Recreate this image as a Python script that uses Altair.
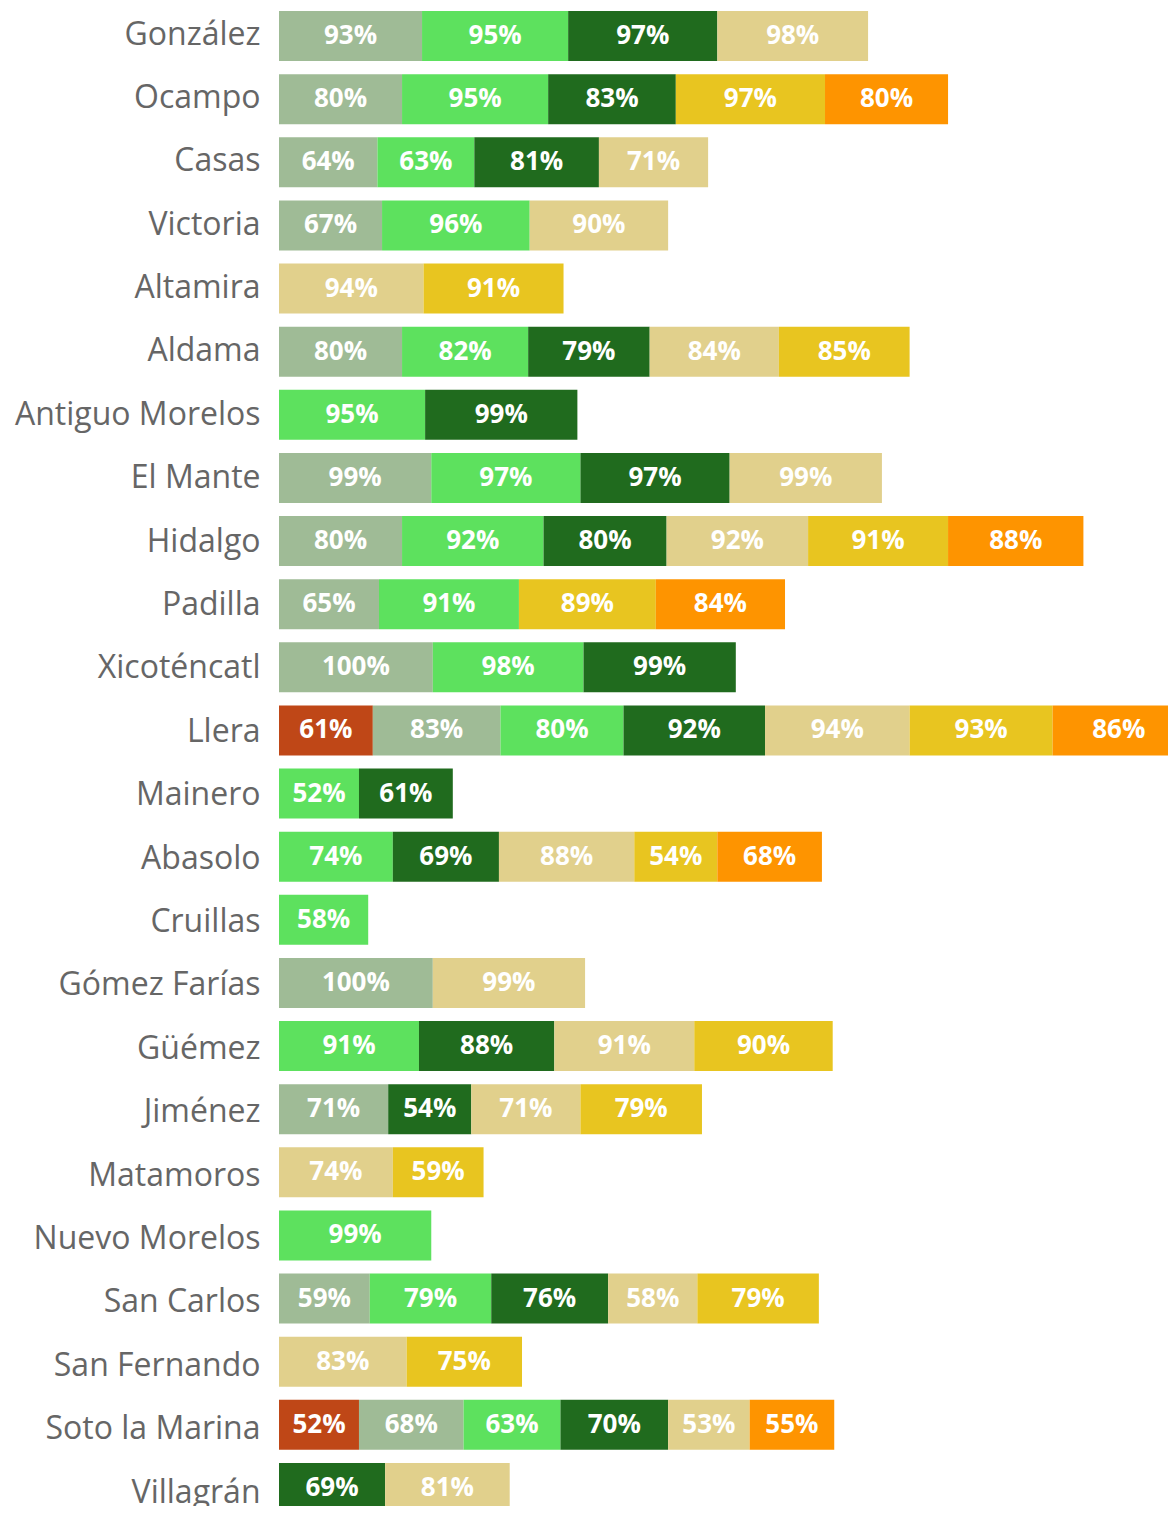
import altair as alt
import pandas as pd

municipios = [
    "González", "Ocampo", "Casas", "Victoria", "Altamira", "Aldama",
    "Antiguo Morelos", "El Mante", "Hidalgo", "Padilla", "Xicoténcatl",
    "Llera", "Mainero", "Abasolo", "Cruillas", "Gómez Farías", "Güémez",
    "Jiménez", "Matamoros", "Nuevo Morelos", "San Carlos", "San Fernando",
    "Soto la Marina", "Villagrán",
]

N = None
serie_1 = [N, N, N, N, N, N, N, N, N, N, N, 61, N, N, N, N, N, N, N, N, N, N, 52, N]
serie_2 = [93, 80, 64, 67, N, 80, N, 99, 80, 65, 100, 83, N, N, N, 100, N, 71, N, N, 59, N, 68, N]
serie_3 = [95, 95, 63, 96, N, 82, 95, 97, 92, 91, 98, 80, 52, 74, 58, N, 91, N, N, 99, 79, N, 63, N]
serie_4 = [97, 83, 81, N, N, 79, 99, 97, 80, N, 99, 92, 61, 69, N, N, 88, 54, N, N, 76, N, 70, 69]
serie_5 = [98, N, 71, 90, 94, 84, N, 99, 92, N, N, 94, N, 88, N, 99, 91, 71, 74, N, 58, 83, 53, 81]
serie_6 = [N, 97, N, N, 91, 85, N, N, 91, 89, N, 93, N, 54, N, N, 90, 79, 59, N, 79, 75, N, N]
serie_7 = [N, 80, N, N, N, N, N, N, 88, 84, N, 86, N, 68, N, N, N, N, N, N, N, N, 55, N]

series_names = ["Serie 1", "Serie 2", "Serie 3", "Serie 4", "Serie 5", "Serie 6", "Serie 7"]
series_values = [serie_1, serie_2, serie_3, serie_4, serie_5, serie_6, serie_7]
colors = ["#bf4717", "#9fbb96", "#5de15e", "#206b1e", "#e1d08c", "#e8c520", "#fe9400"]

rows = []
for idx, (name, vals) in enumerate(zip(series_names, series_values)):
    for m, v in zip(municipios, vals):
        if v is not None:
            rows.append({"municipio": m, "serie": name, "orden": idx,
                         "valor": v, "etiqueta": f"{v}%"})
df = pd.DataFrame(rows)
df_labels = pd.DataFrame({"municipio": municipios})

FONT = "Open Sans"

yscale = alt.Scale(range=[3, 1505], paddingInner=0.208, paddingOuter=0)
xscale = alt.Scale(domain=[0, 578], nice=False, zero=True)

base = alt.Chart(df).transform_stack(
    stack="valor", groupby=["municipio"], as_=["x0", "x1"],
    sort=[alt.SortField("orden", order="ascending")],
).transform_calculate(mid="(datum.x0 + datum.x1) / 2")

bars = base.mark_bar(clip=True).encode(
    y=alt.Y("municipio:N", sort=municipios, scale=yscale, axis=None),
    x=alt.X("x0:Q", scale=xscale, axis=None),
    x2="x1:Q",
    color=alt.Color("serie:N", scale=alt.Scale(domain=series_names, range=colors), legend=None),
)

texts = base.mark_text(color="white", font=FONT, fontWeight="bold", fontSize=26,
                       align="center", baseline="middle").encode(
    y=alt.Y("municipio:N", sort=municipios, scale=yscale, axis=None),
    x=alt.X("mid:Q", scale=xscale, axis=None),
    text="etiqueta:N",
)

labels = alt.Chart(df_labels).mark_point(opacity=0, size=0).encode(
    y=alt.Y("municipio:N", sort=municipios,
            scale=alt.Scale(type="point", range=[26, 1484], padding=0),
            axis=alt.Axis(orient="left", title=None, ticks=False, domain=False, grid=False,
                          labelFont=FONT, labelFontSize=32, labelColor="#666666",
                          labelPadding=19, labelLimit=500)),
)

chart = alt.layer(alt.layer(bars, texts), labels).resolve_scale(y="independent").properties(
    width=889, height=1498,
    padding={"left": 271, "top": 0, "right": 0, "bottom": 0},
    autosize=alt.AutoSizeParams(type="none"),
).configure_view(stroke=None)

chart.save("out.html", embed_options={"renderer": "svg", "actions": False})
